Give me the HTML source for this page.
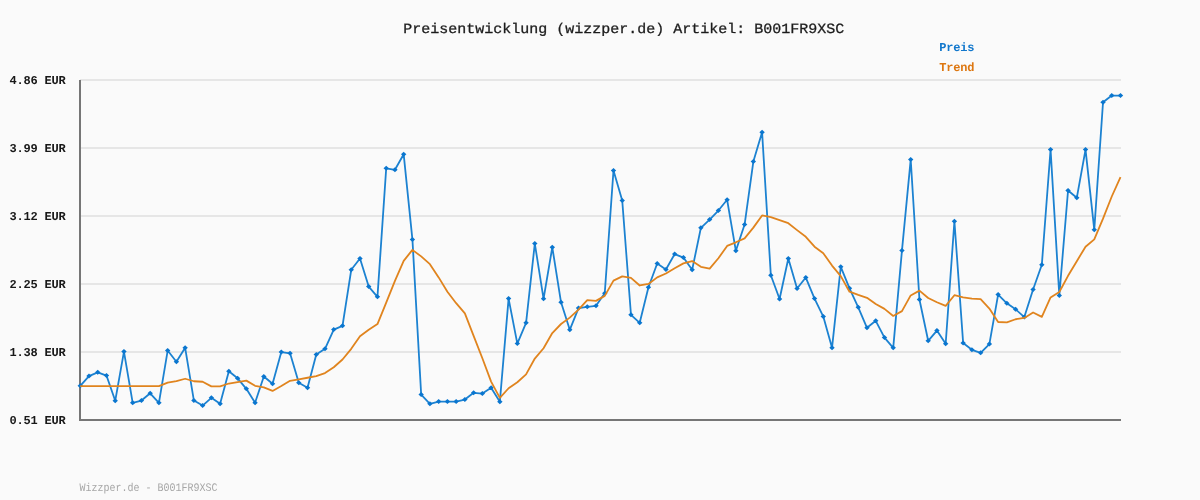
<!DOCTYPE html>
<html lang="de"><head><meta charset="utf-8"><title>Preisentwicklung (wizzper.de) Artikel: B001FR9XSC</title>
<style>
html,body{margin:0;padding:0;background:#fafafa;}
body{width:1200px;height:500px;overflow:hidden;}
svg{display:block;}
text{font-family:"Liberation Mono","DejaVu Sans Mono",monospace;}
.ax,.lg,.ft,.title{text-rendering:geometricPrecision;}
.title{font-size:15px;fill:#1c1c1c;stroke:#1c1c1c;stroke-width:0.3px;}
.ax{font-size:12px;font-weight:bold;fill:#181818;letter-spacing:-0.2px;}
.lg{font-size:12px;font-weight:bold;letter-spacing:-0.2px;}
.ft{font-size:10px;fill:#a6a6a6;}
</style></head><body>
<svg width="1200" height="500" viewBox="0 0 1200 500">
<rect width="1200" height="500" fill="#fafafa"/>
<rect x="80" y="79" width="1041" height="2" fill="#e6e6e6"/><rect x="80" y="147" width="1041" height="2" fill="#e6e6e6"/><rect x="80" y="215" width="1041" height="2" fill="#e6e6e6"/><rect x="80" y="283" width="1041" height="2" fill="#e6e6e6"/><rect x="80" y="351" width="1041" height="2" fill="#e6e6e6"/>
<rect x="79" y="80" width="2" height="341" fill="#767676"/>
<rect x="79" y="419" width="1042" height="2" fill="#767676"/>
<text transform="translate(403.3,32.6) scale(1,0.94)" class="title">Preisentwicklung (wizzper.de) Artikel: B001FR9XSC</text>
<text transform="translate(9.5,84) scale(1,1)" class="ax">4.86 EUR</text><text transform="translate(9.5,152) scale(1,1)" class="ax">3.99 EUR</text><text transform="translate(9.5,220) scale(1,1)" class="ax">3.12 EUR</text><text transform="translate(9.5,288) scale(1,1)" class="ax">2.25 EUR</text><text transform="translate(9.5,356) scale(1,1)" class="ax">1.38 EUR</text><text transform="translate(9.5,424) scale(1,1)" class="ax">0.51 EUR</text>
<text transform="translate(939.3,51) scale(1,1)" class="lg" fill="#1177cc">Preis</text>
<text transform="translate(939.3,70.8) scale(1,1)" class="lg" fill="#dd7711">Trend</text>
<polyline points="80.25,385.80 88.99,376.05 97.73,372.30 106.47,375.55 115.22,400.80 123.96,351.55 132.70,402.80 141.44,400.55 150.18,393.30 158.92,402.80 167.67,350.55 176.41,361.80 185.15,347.80 193.89,400.55 202.63,405.55 211.37,397.80 220.12,403.80 228.86,371.30 237.60,378.30 246.34,388.80 255.08,402.80 263.82,376.55 272.57,383.80 281.31,352.05 290.05,353.30 298.79,382.80 307.53,387.80 316.27,354.55 325.01,348.80 333.76,329.55 342.50,325.80 351.24,269.80 359.98,258.55 368.72,286.55 377.46,296.80 386.21,168.30 394.95,169.80 403.69,154.30 412.43,239.55 421.17,394.55 429.91,403.80 438.66,401.55 447.40,401.55 456.14,401.55 464.88,399.55 473.62,392.80 482.36,393.55 491.11,387.80 499.85,401.80 508.59,298.55 517.33,343.55 526.07,322.80 534.81,243.55 543.55,298.80 552.30,247.30 561.04,302.30 569.78,329.80 578.52,308.05 587.26,306.80 596.00,305.80 604.75,293.30 613.49,170.55 622.23,200.55 630.97,314.80 639.71,322.80 648.45,287.30 657.20,263.55 665.94,269.55 674.68,254.05 683.42,257.55 692.16,269.80 700.90,227.80 709.64,219.55 718.39,210.55 727.13,199.80 735.87,250.80 744.61,224.55 753.35,161.55 762.09,132.30 770.84,275.30 779.58,299.05 788.32,258.55 797.06,288.55 805.80,277.55 814.54,298.55 823.29,316.55 832.03,347.80 840.77,266.80 849.51,288.30 858.25,307.30 866.99,327.80 875.74,320.80 884.48,337.55 893.22,347.80 901.96,250.55 910.70,159.55 919.44,299.55 928.18,340.80 936.93,330.55 945.67,343.80 954.41,221.30 963.15,343.05 971.89,349.80 980.63,352.80 989.38,344.05 998.12,294.55 1006.86,303.30 1015.60,309.30 1024.34,317.05 1033.08,289.55 1041.83,264.80 1050.57,149.55 1059.31,295.55 1068.05,190.55 1076.79,197.80 1085.53,149.55 1094.28,229.80 1103.02,102.30 1111.76,95.55 1120.50,95.55" fill="none" stroke="#1c82d1" stroke-width="1.8" stroke-linejoin="round"/>
<g fill="#0a76cf"><path d="M80.25 383.30l2.7 2.5l-2.7 2.5l-2.7 -2.5z"/><path d="M88.99 373.55l2.7 2.5l-2.7 2.5l-2.7 -2.5z"/><path d="M97.73 369.80l2.7 2.5l-2.7 2.5l-2.7 -2.5z"/><path d="M106.47 373.05l2.7 2.5l-2.7 2.5l-2.7 -2.5z"/><path d="M115.22 398.30l2.7 2.5l-2.7 2.5l-2.7 -2.5z"/><path d="M123.96 349.05l2.7 2.5l-2.7 2.5l-2.7 -2.5z"/><path d="M132.70 400.30l2.7 2.5l-2.7 2.5l-2.7 -2.5z"/><path d="M141.44 398.05l2.7 2.5l-2.7 2.5l-2.7 -2.5z"/><path d="M150.18 390.80l2.7 2.5l-2.7 2.5l-2.7 -2.5z"/><path d="M158.92 400.30l2.7 2.5l-2.7 2.5l-2.7 -2.5z"/><path d="M167.67 348.05l2.7 2.5l-2.7 2.5l-2.7 -2.5z"/><path d="M176.41 359.30l2.7 2.5l-2.7 2.5l-2.7 -2.5z"/><path d="M185.15 345.30l2.7 2.5l-2.7 2.5l-2.7 -2.5z"/><path d="M193.89 398.05l2.7 2.5l-2.7 2.5l-2.7 -2.5z"/><path d="M202.63 403.05l2.7 2.5l-2.7 2.5l-2.7 -2.5z"/><path d="M211.37 395.30l2.7 2.5l-2.7 2.5l-2.7 -2.5z"/><path d="M220.12 401.30l2.7 2.5l-2.7 2.5l-2.7 -2.5z"/><path d="M228.86 368.80l2.7 2.5l-2.7 2.5l-2.7 -2.5z"/><path d="M237.60 375.80l2.7 2.5l-2.7 2.5l-2.7 -2.5z"/><path d="M246.34 386.30l2.7 2.5l-2.7 2.5l-2.7 -2.5z"/><path d="M255.08 400.30l2.7 2.5l-2.7 2.5l-2.7 -2.5z"/><path d="M263.82 374.05l2.7 2.5l-2.7 2.5l-2.7 -2.5z"/><path d="M272.57 381.30l2.7 2.5l-2.7 2.5l-2.7 -2.5z"/><path d="M281.31 349.55l2.7 2.5l-2.7 2.5l-2.7 -2.5z"/><path d="M290.05 350.80l2.7 2.5l-2.7 2.5l-2.7 -2.5z"/><path d="M298.79 380.30l2.7 2.5l-2.7 2.5l-2.7 -2.5z"/><path d="M307.53 385.30l2.7 2.5l-2.7 2.5l-2.7 -2.5z"/><path d="M316.27 352.05l2.7 2.5l-2.7 2.5l-2.7 -2.5z"/><path d="M325.01 346.30l2.7 2.5l-2.7 2.5l-2.7 -2.5z"/><path d="M333.76 327.05l2.7 2.5l-2.7 2.5l-2.7 -2.5z"/><path d="M342.50 323.30l2.7 2.5l-2.7 2.5l-2.7 -2.5z"/><path d="M351.24 267.30l2.7 2.5l-2.7 2.5l-2.7 -2.5z"/><path d="M359.98 256.05l2.7 2.5l-2.7 2.5l-2.7 -2.5z"/><path d="M368.72 284.05l2.7 2.5l-2.7 2.5l-2.7 -2.5z"/><path d="M377.46 294.30l2.7 2.5l-2.7 2.5l-2.7 -2.5z"/><path d="M386.21 165.80l2.7 2.5l-2.7 2.5l-2.7 -2.5z"/><path d="M394.95 167.30l2.7 2.5l-2.7 2.5l-2.7 -2.5z"/><path d="M403.69 151.80l2.7 2.5l-2.7 2.5l-2.7 -2.5z"/><path d="M412.43 237.05l2.7 2.5l-2.7 2.5l-2.7 -2.5z"/><path d="M421.17 392.05l2.7 2.5l-2.7 2.5l-2.7 -2.5z"/><path d="M429.91 401.30l2.7 2.5l-2.7 2.5l-2.7 -2.5z"/><path d="M438.66 399.05l2.7 2.5l-2.7 2.5l-2.7 -2.5z"/><path d="M447.40 399.05l2.7 2.5l-2.7 2.5l-2.7 -2.5z"/><path d="M456.14 399.05l2.7 2.5l-2.7 2.5l-2.7 -2.5z"/><path d="M464.88 397.05l2.7 2.5l-2.7 2.5l-2.7 -2.5z"/><path d="M473.62 390.30l2.7 2.5l-2.7 2.5l-2.7 -2.5z"/><path d="M482.36 391.05l2.7 2.5l-2.7 2.5l-2.7 -2.5z"/><path d="M491.11 385.30l2.7 2.5l-2.7 2.5l-2.7 -2.5z"/><path d="M499.85 399.30l2.7 2.5l-2.7 2.5l-2.7 -2.5z"/><path d="M508.59 296.05l2.7 2.5l-2.7 2.5l-2.7 -2.5z"/><path d="M517.33 341.05l2.7 2.5l-2.7 2.5l-2.7 -2.5z"/><path d="M526.07 320.30l2.7 2.5l-2.7 2.5l-2.7 -2.5z"/><path d="M534.81 241.05l2.7 2.5l-2.7 2.5l-2.7 -2.5z"/><path d="M543.55 296.30l2.7 2.5l-2.7 2.5l-2.7 -2.5z"/><path d="M552.30 244.80l2.7 2.5l-2.7 2.5l-2.7 -2.5z"/><path d="M561.04 299.80l2.7 2.5l-2.7 2.5l-2.7 -2.5z"/><path d="M569.78 327.30l2.7 2.5l-2.7 2.5l-2.7 -2.5z"/><path d="M578.52 305.55l2.7 2.5l-2.7 2.5l-2.7 -2.5z"/><path d="M587.26 304.30l2.7 2.5l-2.7 2.5l-2.7 -2.5z"/><path d="M596.00 303.30l2.7 2.5l-2.7 2.5l-2.7 -2.5z"/><path d="M604.75 290.80l2.7 2.5l-2.7 2.5l-2.7 -2.5z"/><path d="M613.49 168.05l2.7 2.5l-2.7 2.5l-2.7 -2.5z"/><path d="M622.23 198.05l2.7 2.5l-2.7 2.5l-2.7 -2.5z"/><path d="M630.97 312.30l2.7 2.5l-2.7 2.5l-2.7 -2.5z"/><path d="M639.71 320.30l2.7 2.5l-2.7 2.5l-2.7 -2.5z"/><path d="M648.45 284.80l2.7 2.5l-2.7 2.5l-2.7 -2.5z"/><path d="M657.20 261.05l2.7 2.5l-2.7 2.5l-2.7 -2.5z"/><path d="M665.94 267.05l2.7 2.5l-2.7 2.5l-2.7 -2.5z"/><path d="M674.68 251.55l2.7 2.5l-2.7 2.5l-2.7 -2.5z"/><path d="M683.42 255.05l2.7 2.5l-2.7 2.5l-2.7 -2.5z"/><path d="M692.16 267.30l2.7 2.5l-2.7 2.5l-2.7 -2.5z"/><path d="M700.90 225.30l2.7 2.5l-2.7 2.5l-2.7 -2.5z"/><path d="M709.64 217.05l2.7 2.5l-2.7 2.5l-2.7 -2.5z"/><path d="M718.39 208.05l2.7 2.5l-2.7 2.5l-2.7 -2.5z"/><path d="M727.13 197.30l2.7 2.5l-2.7 2.5l-2.7 -2.5z"/><path d="M735.87 248.30l2.7 2.5l-2.7 2.5l-2.7 -2.5z"/><path d="M744.61 222.05l2.7 2.5l-2.7 2.5l-2.7 -2.5z"/><path d="M753.35 159.05l2.7 2.5l-2.7 2.5l-2.7 -2.5z"/><path d="M762.09 129.80l2.7 2.5l-2.7 2.5l-2.7 -2.5z"/><path d="M770.84 272.80l2.7 2.5l-2.7 2.5l-2.7 -2.5z"/><path d="M779.58 296.55l2.7 2.5l-2.7 2.5l-2.7 -2.5z"/><path d="M788.32 256.05l2.7 2.5l-2.7 2.5l-2.7 -2.5z"/><path d="M797.06 286.05l2.7 2.5l-2.7 2.5l-2.7 -2.5z"/><path d="M805.80 275.05l2.7 2.5l-2.7 2.5l-2.7 -2.5z"/><path d="M814.54 296.05l2.7 2.5l-2.7 2.5l-2.7 -2.5z"/><path d="M823.29 314.05l2.7 2.5l-2.7 2.5l-2.7 -2.5z"/><path d="M832.03 345.30l2.7 2.5l-2.7 2.5l-2.7 -2.5z"/><path d="M840.77 264.30l2.7 2.5l-2.7 2.5l-2.7 -2.5z"/><path d="M849.51 285.80l2.7 2.5l-2.7 2.5l-2.7 -2.5z"/><path d="M858.25 304.80l2.7 2.5l-2.7 2.5l-2.7 -2.5z"/><path d="M866.99 325.30l2.7 2.5l-2.7 2.5l-2.7 -2.5z"/><path d="M875.74 318.30l2.7 2.5l-2.7 2.5l-2.7 -2.5z"/><path d="M884.48 335.05l2.7 2.5l-2.7 2.5l-2.7 -2.5z"/><path d="M893.22 345.30l2.7 2.5l-2.7 2.5l-2.7 -2.5z"/><path d="M901.96 248.05l2.7 2.5l-2.7 2.5l-2.7 -2.5z"/><path d="M910.70 157.05l2.7 2.5l-2.7 2.5l-2.7 -2.5z"/><path d="M919.44 297.05l2.7 2.5l-2.7 2.5l-2.7 -2.5z"/><path d="M928.18 338.30l2.7 2.5l-2.7 2.5l-2.7 -2.5z"/><path d="M936.93 328.05l2.7 2.5l-2.7 2.5l-2.7 -2.5z"/><path d="M945.67 341.30l2.7 2.5l-2.7 2.5l-2.7 -2.5z"/><path d="M954.41 218.80l2.7 2.5l-2.7 2.5l-2.7 -2.5z"/><path d="M963.15 340.55l2.7 2.5l-2.7 2.5l-2.7 -2.5z"/><path d="M971.89 347.30l2.7 2.5l-2.7 2.5l-2.7 -2.5z"/><path d="M980.63 350.30l2.7 2.5l-2.7 2.5l-2.7 -2.5z"/><path d="M989.38 341.55l2.7 2.5l-2.7 2.5l-2.7 -2.5z"/><path d="M998.12 292.05l2.7 2.5l-2.7 2.5l-2.7 -2.5z"/><path d="M1006.86 300.80l2.7 2.5l-2.7 2.5l-2.7 -2.5z"/><path d="M1015.60 306.80l2.7 2.5l-2.7 2.5l-2.7 -2.5z"/><path d="M1024.34 314.55l2.7 2.5l-2.7 2.5l-2.7 -2.5z"/><path d="M1033.08 287.05l2.7 2.5l-2.7 2.5l-2.7 -2.5z"/><path d="M1041.83 262.30l2.7 2.5l-2.7 2.5l-2.7 -2.5z"/><path d="M1050.57 147.05l2.7 2.5l-2.7 2.5l-2.7 -2.5z"/><path d="M1059.31 293.05l2.7 2.5l-2.7 2.5l-2.7 -2.5z"/><path d="M1068.05 188.05l2.7 2.5l-2.7 2.5l-2.7 -2.5z"/><path d="M1076.79 195.30l2.7 2.5l-2.7 2.5l-2.7 -2.5z"/><path d="M1085.53 147.05l2.7 2.5l-2.7 2.5l-2.7 -2.5z"/><path d="M1094.28 227.30l2.7 2.5l-2.7 2.5l-2.7 -2.5z"/><path d="M1103.02 99.80l2.7 2.5l-2.7 2.5l-2.7 -2.5z"/><path d="M1111.76 93.05l2.7 2.5l-2.7 2.5l-2.7 -2.5z"/><path d="M1120.50 93.05l2.7 2.5l-2.7 2.5l-2.7 -2.5z"/></g>
<polyline points="80.25,386.15 88.99,386.15 97.73,386.15 106.47,386.15 115.22,386.15 123.96,386.15 132.70,386.15 141.44,386.15 150.18,386.15 158.92,386.15 167.67,382.62 176.41,381.20 185.15,378.75 193.89,381.25 202.63,381.73 211.37,386.35 220.12,386.45 228.86,383.52 237.60,382.02 246.34,380.62 255.08,385.85 263.82,387.32 272.57,390.93 281.31,386.07 290.05,380.85 298.79,379.35 307.53,377.75 316.27,376.07 325.01,373.12 333.76,367.20 342.50,359.50 351.24,348.82 359.98,336.30 368.72,329.75 377.46,324.10 386.21,302.65 394.95,280.85 403.69,260.82 412.43,249.90 421.17,256.40 429.91,264.20 438.66,277.38 447.40,291.68 456.14,303.18 464.88,313.45 473.62,335.90 482.36,358.27 491.11,381.62 499.85,397.85 508.59,388.25 517.33,382.23 526.07,374.35 534.81,358.55 543.55,348.27 552.30,333.05 561.04,324.00 569.78,317.62 578.52,309.65 587.26,300.15 596.00,300.88 604.75,295.85 613.49,280.62 622.23,276.32 630.97,277.93 639.71,285.48 648.45,283.98 657.20,277.35 665.94,273.50 674.68,268.23 683.42,263.40 692.16,261.05 700.90,266.77 709.64,268.68 718.39,258.25 727.13,245.95 735.87,242.30 744.61,238.40 753.35,227.60 762.09,215.43 770.84,217.20 779.58,220.12 788.32,223.20 797.06,230.10 805.80,236.80 814.54,246.68 823.29,253.25 832.03,265.57 840.77,276.10 849.51,291.70 858.25,294.90 866.99,297.77 875.74,304.00 884.48,308.90 893.22,315.93 901.96,311.12 910.70,295.43 919.44,290.60 928.18,298.00 936.93,302.23 945.67,305.88 954.41,295.23 963.15,297.45 971.89,298.68 980.63,299.18 989.38,308.52 998.12,322.02 1006.86,322.40 1015.60,319.25 1024.34,317.90 1033.08,312.48 1041.83,316.82 1050.57,297.48 1059.31,292.05 1068.05,275.82 1076.79,261.20 1085.53,246.70 1094.28,239.35 1103.02,218.65 1111.76,196.50 1120.50,177.10" fill="none" stroke="#e0841e" stroke-width="1.8" stroke-linejoin="round"/>
<text transform="translate(79.5,491) scale(1,1.15)" class="ft">Wizzper.de - B001FR9XSC</text>
</svg>
</body></html>
